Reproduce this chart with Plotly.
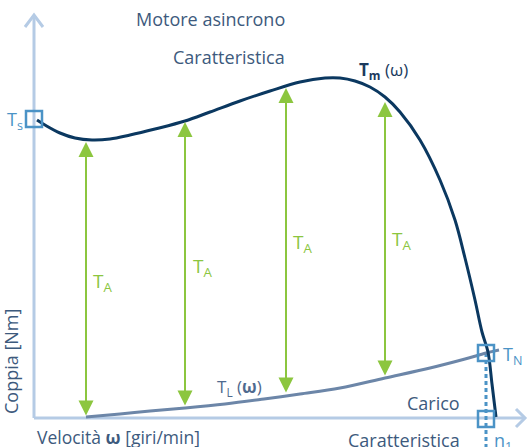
import plotly.graph_objects as go

# Motor torque characteristic Tm(ω)  (speed, torque) in arbitrary units
motor_speed = [3, 11, 26, 41, 58, 76, 96, 121, 151, 176, 206, 236, 266, 291, 306, 321, 336, 351, 366, 386, 406, 421, 431, 441, 448, 454, 458, 462]
motor_torque = [298, 293, 285, 280, 278, 279, 283, 289, 297, 306, 317, 327, 336, 340, 340, 337, 331, 321, 306, 278, 238, 198, 160, 118, 86, 66, 34, 1]

# Load torque characteristic TL(ω)
load_speed = [52, 86, 116, 151, 191, 230, 266, 306, 351, 396, 431, 452, 465]
load_torque = [1, 4, 7, 10, 14, 19, 24, 30, 40, 50, 59, 65, 68]

# Acceleration torque TA arrows
ta_speed = [52, 151, 252, 351]
ta_top = [276, 296, 330, 316]
ta_bottom = [1, 11, 24, 41]
ta_label_speed = [68, 168, 268, 367]
ta_label_torque = [136, 151, 175, 178]

# Key points
ts_point = (0, 299)
tn_point = (452, 65)
n1_point = (452, -1)

# axis extents
x_range = [-34, 494]
y_range = [-29, 418]
x_axis_end = 491
y_axis_end = 403

AXIS = "#b5cbe5"
NAVY = "#0b3860"
SLATE = "#6c86a8"
GREEN = "#8cc63f"
BLUE = "#4b93c6"
TEXT = "#3d5a7d"
FONT = "Open Sans"

fig = go.Figure()

# axes
fig.add_trace(go.Scatter(x=[0, 0], y=[0, y_axis_end], mode="lines",
                         line=dict(color=AXIS, width=3), hoverinfo="skip"))
fig.add_trace(go.Scatter(x=[-9, 0, 9], y=[y_axis_end - 12, y_axis_end, y_axis_end - 12], mode="lines",
                         line=dict(color=AXIS, width=3), hoverinfo="skip"))
fig.add_trace(go.Scatter(x=[0, x_axis_end], y=[0, 0], mode="lines",
                         line=dict(color=AXIS, width=3), hoverinfo="skip"))
fig.add_trace(go.Scatter(x=[x_axis_end - 9, x_axis_end, x_axis_end - 9], y=[9, 0, -9], mode="lines",
                         line=dict(color=AXIS, width=3), hoverinfo="skip"))

# dashed line TN -> n1
fig.add_trace(go.Scatter(x=[tn_point[0], tn_point[0]], y=[tn_point[1], y_range[0]], mode="lines",
                         line=dict(color=BLUE, width=3, dash="4px,3px"), hoverinfo="skip"))

# load curve
fig.add_trace(go.Scatter(x=load_speed, y=load_torque, mode="lines",
                         line=dict(color=SLATE, width=3, shape="spline"), hoverinfo="skip"))
# motor curve
fig.add_trace(go.Scatter(x=motor_speed, y=motor_torque, mode="lines",
                         line=dict(color=NAVY, width=3, shape="spline"), hoverinfo="skip"))

# squares
fig.add_trace(go.Scatter(x=[ts_point[0], tn_point[0], n1_point[0]],
                         y=[ts_point[1], tn_point[1], n1_point[1]], mode="markers",
                         marker=dict(symbol="square-open", size=16, color=BLUE, line=dict(width=2.5)),
                         cliponaxis=False, hoverinfo="skip"))

# TA arrows
for xs, yt, yb in zip(ta_speed, ta_top, ta_bottom):
    fig.add_annotation(x=xs, y=yt, ax=xs, ay=yb, xref="x", yref="y", axref="x", ayref="y",
                       text="", showarrow=True, arrowside="end+start",
                       arrowhead=2, startarrowhead=2, arrowsize=1.5, startarrowsize=1.5,
                       arrowwidth=2, arrowcolor=GREEN)

for xs, ys in zip(ta_label_speed, ta_label_torque):
    fig.add_annotation(x=xs, y=ys, text="T<sub>A</sub>", showarrow=False,
                       font=dict(family=FONT, size=19, color=GREEN))

def txt(x, y, t, size=18, color=TEXT, **kw):
    fig.add_annotation(x=x, y=y, text=t, showarrow=False,
                       font=dict(family=FONT, size=size, color=color), **kw)

txt(176, 399, "Motore asincrono")
txt(195, 361, "Caratteristica")
txt(349, 348, "<b>T<sub>m</sub></b> (ω)", size=17, color="#1b3a5e")
txt(-19, 298, "T<sub>s</sub>", color=BLUE)
txt(478, 63, "T<sub>N</sub>", color=BLUE)
txt(469, -23, "n<sub>1</sub>", color=BLUE)
txt(399, 15, "Carico")
txt(370, -22, "Caratteristica")
txt(205, 31, "T<sub>L</sub> (<b>ω</b>)", size=17, color="#4f6a8f")
txt(-23, 56, "Coppia [Nm]", textangle=-90)
txt(84, -19, "Velocità <b>ω</b> [giri/min]", size=17.5)

fig.update_layout(
    width=528, height=447, margin=dict(l=0, r=0, t=0, b=0),
    paper_bgcolor="white", plot_bgcolor="white", showlegend=False,
    xaxis=dict(range=x_range, visible=False, fixedrange=True),
    yaxis=dict(range=y_range, visible=False, fixedrange=True),
)

fig.write_html("out.html", config={"displayModeBar": False},
               post_script="document.body.style.margin='0';document.body.style.overflow='hidden';")
